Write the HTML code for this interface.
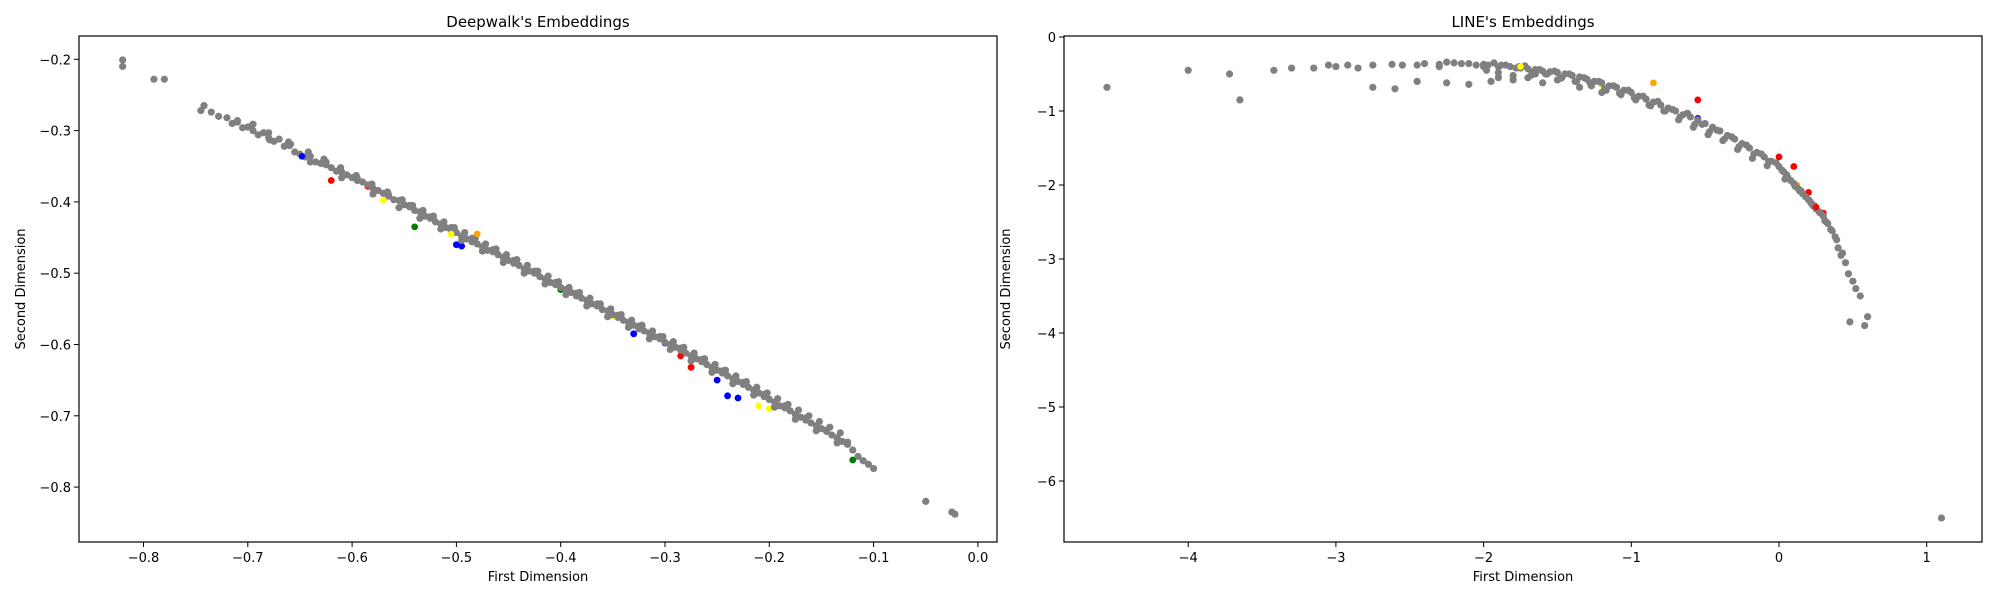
<!DOCTYPE html>
<html><head><meta charset="utf-8"><style>
body{margin:0;background:#fff;}
svg text{font-family:"DejaVu Sans","Liberation Sans",sans-serif;fill:#000;}
</style></head><body>
<svg id="chart" width="2000" height="600" xmlns="http://www.w3.org/2000/svg">
<rect width="2000" height="600" fill="#fff"/>
</svg>
<script>
// ----- Left chart data (Deepwalk) -----
const dwX = [-0.82,-0.82,-0.79,-0.78,-0.745,-0.742,-0.735,-0.728,-0.72,-0.715,-0.71,-0.705,-0.70,-0.695,-0.69,-0.685,-0.68,-0.675,-0.67,-0.665,-0.66,-0.655,-0.65,-0.645,-0.64,-0.635,-0.63,-0.625,-0.62,-0.615,-0.61,-0.605,-0.60,-0.595,-0.59,-0.585,-0.58,-0.575,-0.57,-0.565,-0.56,-0.555,-0.55,-0.545,-0.54,-0.535,-0.53,-0.525,-0.52,-0.515,-0.51,-0.505,-0.50,-0.495,-0.49,-0.485,-0.48,-0.475,-0.47,-0.465,-0.46,-0.455,-0.45,-0.445,-0.44,-0.435,-0.43,-0.425,-0.42,-0.415,-0.41,-0.405,-0.40,-0.395,-0.39,-0.385,-0.38,-0.375,-0.37,-0.365,-0.36,-0.355,-0.35,-0.345,-0.34,-0.335,-0.33,-0.325,-0.32,-0.315,-0.31,-0.305,-0.30,-0.295,-0.29,-0.285,-0.28,-0.275,-0.27,-0.265,-0.26,-0.255,-0.25,-0.245,-0.24,-0.235,-0.23,-0.225,-0.22,-0.215,-0.21,-0.205,-0.20,-0.195,-0.19,-0.185,-0.18,-0.175,-0.17,-0.165,-0.16,-0.155,-0.15,-0.145,-0.14,-0.135,-0.13,-0.125,-0.12,-0.115,-0.11,-0.105,-0.10,-0.05,-0.025,-0.022,
 -0.710,-0.695,-0.679,-0.659,-0.640,-0.625,-0.610,-0.595,-0.580,-0.565,-0.555,-0.545,-0.535,-0.525,-0.515,-0.505,-0.495,-0.485,-0.475,-0.465,-0.455,-0.445,-0.435,-0.425,-0.415,-0.405,-0.395,-0.385,-0.375,-0.365,-0.355,-0.345,-0.335,-0.325,-0.315,-0.305,-0.295,-0.285,-0.275,-0.265,-0.255,-0.245,-0.235,-0.225,-0.215,-0.205,-0.195,-0.185,-0.175,-0.165,-0.155,-0.145,-0.135,-0.125,
 -0.697,-0.680,-0.661,-0.642,-0.627,-0.611,-0.596,-0.581,-0.566,-0.552,-0.542,-0.532,-0.522,-0.512,-0.502,-0.492,-0.482,-0.472,-0.462,-0.452,-0.442,-0.432,-0.422,-0.412,-0.402,-0.392,-0.382,-0.372,-0.362,-0.352,-0.342,-0.332,-0.322,-0.312,-0.302,-0.292,-0.282,-0.272,-0.262,-0.252,-0.242,-0.232,-0.222,-0.212,-0.202,-0.192,-0.182,-0.172,-0.162,-0.152,-0.142,-0.132];
const dwY = [-0.201,-0.210,-0.228,-0.228,-0.272,-0.265,-0.274,-0.280,-0.282,-0.290,-0.286,-0.296,-0.295,-0.300,-0.306,-0.303,-0.310,-0.315,-0.312,-0.322,-0.321,-0.330,-0.333,-0.337,-0.336,-0.344,-0.346,-0.348,-0.352,-0.357,-0.358,-0.362,-0.366,-0.370,-0.372,-0.376,-0.381,-0.384,-0.388,-0.392,-0.397,-0.398,-0.404,-0.407,-0.412,-0.414,-0.420,-0.423,-0.428,-0.431,-0.436,-0.440,-0.443,-0.448,-0.452,-0.456,-0.459,-0.463,-0.468,-0.470,-0.474,-0.478,-0.482,-0.486,-0.489,-0.494,-0.497,-0.500,-0.505,-0.508,-0.513,-0.516,-0.520,-0.523,-0.527,-0.532,-0.535,-0.538,-0.543,-0.546,-0.551,-0.553,-0.558,-0.562,-0.566,-0.569,-0.573,-0.578,-0.581,-0.584,-0.589,-0.592,-0.597,-0.600,-0.604,-0.608,-0.612,-0.616,-0.620,-0.624,-0.628,-0.632,-0.636,-0.640,-0.644,-0.648,-0.652,-0.656,-0.660,-0.664,-0.668,-0.673,-0.677,-0.681,-0.686,-0.689,-0.693,-0.698,-0.702,-0.706,-0.710,-0.714,-0.718,-0.722,-0.727,-0.731,-0.736,-0.740,-0.748,-0.757,-0.763,-0.768,-0.774,-0.82,-0.835,-0.838,
 -0.288,-0.291,-0.313,-0.319,-0.344,-0.344,-0.366,-0.367,-0.389,-0.390,-0.408,-0.405,-0.423,-0.421,-0.438,-0.436,-0.454,-0.451,-0.469,-0.467,-0.485,-0.482,-0.500,-0.497,-0.515,-0.513,-0.530,-0.528,-0.546,-0.543,-0.561,-0.559,-0.576,-0.574,-0.592,-0.589,-0.607,-0.605,-0.623,-0.621,-0.639,-0.637,-0.655,-0.653,-0.671,-0.670,-0.688,-0.686,-0.705,-0.703,-0.721,-0.720,-0.738,-0.737,
 -0.294,-0.303,-0.316,-0.330,-0.340,-0.352,-0.363,-0.375,-0.386,-0.397,-0.405,-0.412,-0.420,-0.428,-0.436,-0.443,-0.451,-0.459,-0.466,-0.474,-0.481,-0.489,-0.497,-0.504,-0.512,-0.520,-0.527,-0.535,-0.543,-0.550,-0.558,-0.566,-0.573,-0.581,-0.589,-0.596,-0.604,-0.612,-0.620,-0.628,-0.636,-0.644,-0.652,-0.660,-0.668,-0.676,-0.684,-0.692,-0.700,-0.708,-0.716,-0.724];
const dwHX = [-0.648,-0.62,-0.585,-0.57,-0.54,-0.52,-0.505,-0.50,-0.495,-0.48,-0.40,-0.35,-0.33,-0.30,-0.285,-0.275,-0.25,-0.24,-0.23,-0.21,-0.20,-0.12,-0.05];
const dwHY = [-0.336,-0.370,-0.378,-0.398,-0.435,-0.428,-0.445,-0.460,-0.462,-0.445,-0.523,-0.560,-0.585,-0.598,-0.616,-0.632,-0.650,-0.672,-0.675,-0.686,-0.690,-0.762,-0.82];
const dwHC = ["blue","red","red","yellow","green","blue","yellow","blue","blue","orange","green","yellow","blue","blue","red","red","blue","blue","blue","yellow","yellow","green","green"];
const dwXTicks = [-0.8,-0.7,-0.6,-0.5,-0.4,-0.3,-0.2,-0.1,0.0];
const dwYTicks = [-0.2,-0.3,-0.4,-0.5,-0.6,-0.7,-0.8];

// ----- Right chart data (LINE) -----
const lnX = [-4.55,-4.0,-3.72,-3.65,-3.42,-3.3,-3.15,-3.05,-3.0,-2.92,-2.85,-2.75,-2.62,-2.55,-2.45,-2.4,-2.3,-2.2,-2.15,-2.05,-2.0,-1.97,-1.9,-1.88,-1.82,-1.75,-1.7,-1.65,-1.6,-1.55,-1.5,-1.45,-1.4,-1.35,-1.3,-1.25,-1.2,-1.15,-1.1,-1.05,-1.0,-0.95,-0.9,-0.85,-0.8,-0.75,-0.7,-0.65,-0.6,-0.55,-0.5,-0.45,-0.4,-0.35,-0.3,-0.25,-0.2,-0.15,-0.1,-0.05,0.0,0.03,0.06,0.1,0.13,0.16,0.2,0.22,0.25,0.28,0.3,0.33,0.35,0.38,0.4,0.42,0.45,0.47,0.5,0.52,0.48,0.55,0.58,0.6,1.1,-2.75,-2.6,-2.45,-2.25,-2.1,-1.95,-1.9,-1.8,-1.7,-1.6,-1.5,-1.8,-1.65,-1.35,-1.2,
 -2.3,-2.25,-2.1,-2.0,-1.93,-1.85,-1.78,-1.72,-1.67,-1.62,-1.57,-1.52,-1.47,-1.42,-1.37,-1.32,-1.27,-1.22,-1.17,-1.12,-1.07,-1.02,-0.97,-0.92,-0.87,-0.82,-0.77,-0.72,-0.67,-0.62,-0.57,-0.52,-0.47,-0.42,-0.37,-0.32,-0.27,-0.22,-0.17,-0.12,-0.07,-0.02,0.02,0.05,0.08,0.11,0.15,0.18,0.21,0.24,0.27,0.32,0.36,0.39,0.43,
 -1.98,-1.9,-1.76,-1.68,-1.58,-1.48,-1.38,-1.28,-1.18,-1.08,-0.98,-0.88,-0.78,-0.68,-0.58,-0.48,-0.38,-0.28,-0.18,-0.08,0.04,0.14,0.23,0.31];
const lnY = [-0.68,-0.45,-0.50,-0.85,-0.45,-0.42,-0.42,-0.38,-0.40,-0.38,-0.42,-0.38,-0.37,-0.38,-0.38,-0.36,-0.37,-0.35,-0.36,-0.38,-0.37,-0.38,-0.40,-0.38,-0.40,-0.42,-0.43,-0.44,-0.46,-0.47,-0.48,-0.50,-0.52,-0.54,-0.57,-0.60,-0.62,-0.66,-0.68,-0.72,-0.75,-0.80,-0.84,-0.88,-0.92,-0.96,-1.00,-1.05,-1.08,-1.12,-1.17,-1.22,-1.27,-1.33,-1.38,-1.44,-1.50,-1.56,-1.62,-1.68,-1.75,-1.82,-1.90,-1.98,-2.05,-2.12,-2.20,-2.25,-2.32,-2.38,-2.42,-2.52,-2.60,-2.70,-2.85,-2.95,-3.05,-3.20,-3.30,-3.40,-3.85,-3.50,-3.90,-3.78,-6.50,-0.68,-0.70,-0.60,-0.62,-0.64,-0.60,-0.55,-0.58,-0.55,-0.62,-0.58,-0.52,-0.50,-0.68,-0.75,
 -0.40,-0.34,-0.36,-0.40,-0.35,-0.38,-0.42,-0.39,-0.48,-0.44,-0.50,-0.46,-0.55,-0.50,-0.60,-0.55,-0.66,-0.60,-0.72,-0.66,-0.78,-0.72,-0.85,-0.80,-0.93,-0.87,-1.00,-0.98,-1.08,-1.03,-1.18,-1.18,-1.28,-1.26,-1.38,-1.35,-1.48,-1.46,-1.58,-1.58,-1.68,-1.70,-1.80,-1.86,-1.94,-2.02,-2.08,-2.16,-2.22,-2.28,-2.36,-2.50,-2.62,-2.74,-2.92,
 -0.45,-0.48,-0.40,-0.52,-0.50,-0.56,-0.60,-0.62,-0.70,-0.76,-0.82,-0.92,-1.00,-1.12,-1.22,-1.32,-1.40,-1.52,-1.64,-1.74,-1.92,-2.08,-2.28,-2.48];
const lnHX = [-1.75,-1.2,-0.85,-0.55,-0.55,0.0,0.1,0.2,0.22,0.25,0.3,0.12];
const lnHY = [-0.40,-0.65,-0.62,-0.85,-1.10,-1.62,-1.75,-2.10,-2.25,-2.30,-2.38,-2.00];
const lnHC = ["yellow","yellow","orange","red","blue","red","red","red","red","red","red","orange"];
const lnXTicks = [-4,-3,-2,-1,0,1];
const lnYTicks = [0,-1,-2,-3,-4,-5,-6];

const NS = "http://www.w3.org/2000/svg";
const svg = document.getElementById('chart');
function mk(tag, attrs, parent){const e=document.createElementNS(NS,tag);for(const k in attrs)e.setAttribute(k,attrs[k]);(parent||svg).appendChild(e);return e;}
function fmt(v,dec){const s=Math.abs(v).toFixed(dec);return (v<0?'\u2212':'')+s;}

function drawPanel(cfg){
  const g = mk('g',{});
  
  
  const sx = v => cfg.x0px + (v - cfg.x0v) * cfg.xs;
  const sy = v => cfg.y0px - (v - cfg.y0v) * cfg.ys;
  const pts = mk('g',{},g);
  
  
  for(let i=0;i<cfg.hx.length;i++){
    const c = mk('circle',{cx:sx(cfg.hx[i]),cy:sy(cfg.hy[i]),r:3.4,fill:cfg.hc[i]},pts);
    
    
  }
  for(let i=0;i<cfg.xs_.length;i++){
    const c = mk('circle',{cx:sx(cfg.xs_[i]),cy:sy(cfg.ys_[i]),r:3.6,fill:'#808080'},pts);
    
    
  }
  for(let i=0;i<cfg.hx.length;i+=3){
    const c = mk('circle',{cx:sx(cfg.hx[i]),cy:sy(cfg.hy[i]),r:3.2,fill:cfg.hc[i]},pts);
    
    
  }
  const fr = mk('rect',{x:cfg.L,y:cfg.T,width:cfg.R-cfg.L,height:cfg.B-cfg.T,fill:'none',stroke:'#000','stroke-width':1.2},g);
  
  
  cfg.xt.forEach(v=>{
    const x=sx(v);
    mk('line',{x1:x,x2:x,y1:cfg.B,y2:cfg.B+5,stroke:'#000'},g);
    const t=mk('text',{x:x,y:cfg.B+20,'font-size':13,'text-anchor':'middle'},g);
    t.textContent=fmt(v,cfg.xdec);
    
    
  });
  cfg.yt.forEach(v=>{
    const y=sy(v);
    mk('line',{x1:cfg.L-5,x2:cfg.L,y1:y,y2:y,stroke:'#000'},g);
    const t=mk('text',{x:cfg.L-8,y:y+5,'font-size':13,'text-anchor':'end'},g);
    t.textContent=fmt(v,cfg.ydec);
    
    
  });
  const ti=mk('text',{x:(cfg.L+cfg.R)/2,y:27,'font-size':15,'text-anchor':'middle'},g);
  ti.textContent=cfg.title;
  
  
  const xl=mk('text',{x:(cfg.L+cfg.R)/2,y:581,'font-size':13,'text-anchor':'middle'},g);
  xl.textContent='First Dimension';
  
  
  const yx=cfg.L-54, yy=(cfg.T+cfg.B)/2;
  const yl=mk('text',{x:yx,y:yy,'font-size':13,'text-anchor':'middle',transform:`rotate(-90 ${yx} ${yy})`},g);
  yl.textContent='Second Dimension';
  
  
}

drawPanel({name:'deepwalk-chart',title:"Deepwalk's Embeddings",L:79,R:997,T:36,B:542,
  x0v:-0.8,x0px:143.5,xs:1043,y0v:-0.2,y0px:59.3,ys:713,
  xs_:dwX,ys_:dwY,hx:dwHX,hy:dwHY,hc:dwHC,xt:dwXTicks,yt:dwYTicks,xdec:1,ydec:1});
drawPanel({name:'line-chart',title:"LINE's Embeddings",L:1064,R:1982,T:36,B:542,
  x0v:0,x0px:1779,xs:147.7,y0v:0,y0px:37,ys:74,
  xs_:lnX,ys_:lnY,hx:lnHX,hy:lnHY,hc:lnHC,xt:lnXTicks,yt:lnYTicks,xdec:0,ydec:0});
</script>
</body></html>
